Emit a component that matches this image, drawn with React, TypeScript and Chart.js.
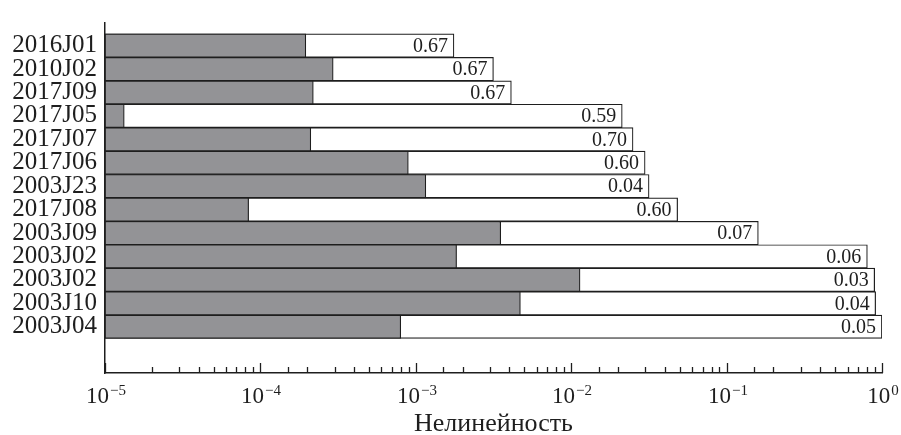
import React, { useEffect, useRef } from 'react';
import { Chart, registerables } from 'chart.js';

Chart.register(...registerables);

// ---- data ----
const categories = ['2016J01', '2010J02', '2017J09', '2017J05', '2017J07', '2017J06', '2003J23', '2017J08', '2003J09', '2003J02', '2003J02', '2003J10', '2003J04'];
const grayValues = [1.96e-4, 2.94e-4, 2.19e-4, 1.33e-5, 2.11e-4, 8.95e-4, 1.16e-3, 8.4e-5, 3.52e-3, 1.83e-3, 1.14e-2, 4.71e-3, 8.0e-4];
const whiteValues = [1.76e-3, 3.16e-3, 4.12e-3, 2.13e-2, 2.5e-2, 2.99e-2, 3.17e-2, 4.84e-2, 0.16, 0.805, 0.897, 0.91, 1.0];
const valueLabels = ['0.67', '0.67', '0.67', '0.59', '0.70', '0.60', '0.04', '0.60', '0.07', '0.06', '0.03', '0.04', '0.05'];
const axisMin = 1e-5;
const axisMax = 1;
const xTitle = 'Нелинейность';

const INK = '#1e1e1e';
const GRAY = '#939396';
const FONT = '"Liberation Serif", "Times New Roman", serif';

const decorPlugin = {
  id: 'decor',
  afterDatasetsDraw(chart: any) {
    const ctx = chart.ctx;
    const meta = chart.getDatasetMeta(1);
    ctx.save();
    ctx.fillStyle = INK;
    ctx.font = `20px ${FONT}`;
    ctx.textAlign = 'right';
    ctx.textBaseline = 'middle';
    meta.data.forEach((el: any, i: number) => {
      ctx.fillText(valueLabels[i], el.x - 6, el.y + 1);
    });
    ctx.restore();
  },
  afterDraw(chart: any) {
    const ctx = chart.ctx;
    const xs = chart.scales.x;
    const axisY = xs.top;
    ctx.save();
    ctx.strokeStyle = INK;
    ctx.lineWidth = 1.3;
    ctx.fillStyle = INK;
    xs.ticks.forEach((t: any) => {
      const v = t.value;
      const e = Math.log10(v);
      const major = Math.abs(e - Math.round(e)) < 1e-6;
      const px = Math.round(xs.getPixelForValue(v)) + 0.5;
      const len = major ? 10 : 6;
      ctx.beginPath();
      ctx.moveTo(px, axisY);
      ctx.lineTo(px, axisY - len);
      ctx.stroke();
      if (major) {
        const n = Math.round(e);
        const base = '10';
        const exp = (n < 0 ? '\u2212' : '') + Math.abs(n);
        ctx.font = `23px ${FONT}`;
        const w1 = ctx.measureText(base).width;
        ctx.font = `15px ${FONT}`;
        const w2 = ctx.measureText(exp).width;
        const x0 = px - (w1 + w2) / 2;
        ctx.textAlign = 'left';
        ctx.textBaseline = 'alphabetic';
        ctx.font = `23px ${FONT}`;
        ctx.fillText(base, x0, axisY + 30);
        ctx.font = `15px ${FONT}`;
        ctx.fillText(exp, x0 + w1 + 1, axisY + 22);
      }
    });
    ctx.restore();
  },
};

export default function App() {
  const ref = useRef<HTMLCanvasElement | null>(null);

  useEffect(() => {
    if (!ref.current) return;
    const grayData = grayValues.map((v, i) => ({ x: [axisMin, v], y: i }));
    const whiteData = whiteValues.map((v, i) => ({ x: [axisMin, v], y: i }));
    const chart = new Chart(ref.current, {
      type: 'bar',
      data: {
        datasets: [
          {
            label: 'gray',
            data: grayData as any,
            backgroundColor: GRAY,
            borderColor: INK,
            borderWidth: 1.2,
            borderSkipped: false,
            barPercentage: 1,
            categoryPercentage: 1,
            grouped: false,
            order: 0,
          },
          {
            label: 'white',
            data: whiteData as any,
            backgroundColor: '#ffffff',
            borderColor: INK,
            borderWidth: 1.2,
            borderSkipped: false,
            barPercentage: 1,
            categoryPercentage: 1,
            grouped: false,
            order: 1,
          },
        ],
      },
      options: {
        indexAxis: 'y',
        animation: false,
        responsive: false,
        devicePixelRatio: 1,
        layout: { padding: { top: 11, right: 19, left: 0, bottom: 0 } },
        plugins: {
          legend: { display: false },
          tooltip: { enabled: false },
        },
        scales: {
          x: {
            type: 'logarithmic',
            min: axisMin,
            max: axisMax,
            grid: { display: false, drawTicks: false },
            border: { display: true, color: INK, width: 1.5 },
            ticks: { display: false, autoSkip: false },
            title: {
              display: true,
              text: xTitle,
              color: INK,
              font: { family: FONT, size: 26, lineHeight: 0.8 },
              padding: { top: 0, bottom: 0 },
            },
            afterFit: (s: any) => {
              s.height = 62;
            },
          },
          y: {
            type: 'linear',
            reverse: true,
            offset: false,
            min: -0.967,
            max: 13.975,
            grid: { display: false, drawTicks: false },
            border: { display: true, color: INK, width: 1.5 },
            afterBuildTicks: (s: any) => {
              s.ticks = categories.map((_, i) => ({ value: i }));
            },
            ticks: {
              autoSkip: false,
              padding: 8,
              color: INK,
              font: { family: FONT, size: 25 },
              callback: (v: any) => categories[Math.round(Number(v))] ?? '',
            },
            afterFit: (s: any) => {
              s.width = 105;
            },
          },
        },
      },
      plugins: [decorPlugin],
    });
    return () => chart.destroy();
  }, []);

  return (
    <div style={{ position: 'fixed', left: 0, top: 0, width: 901, height: 435, background: '#fff' }}>
      <canvas ref={ref} width={901} height={435} />
    </div>
  );
}
